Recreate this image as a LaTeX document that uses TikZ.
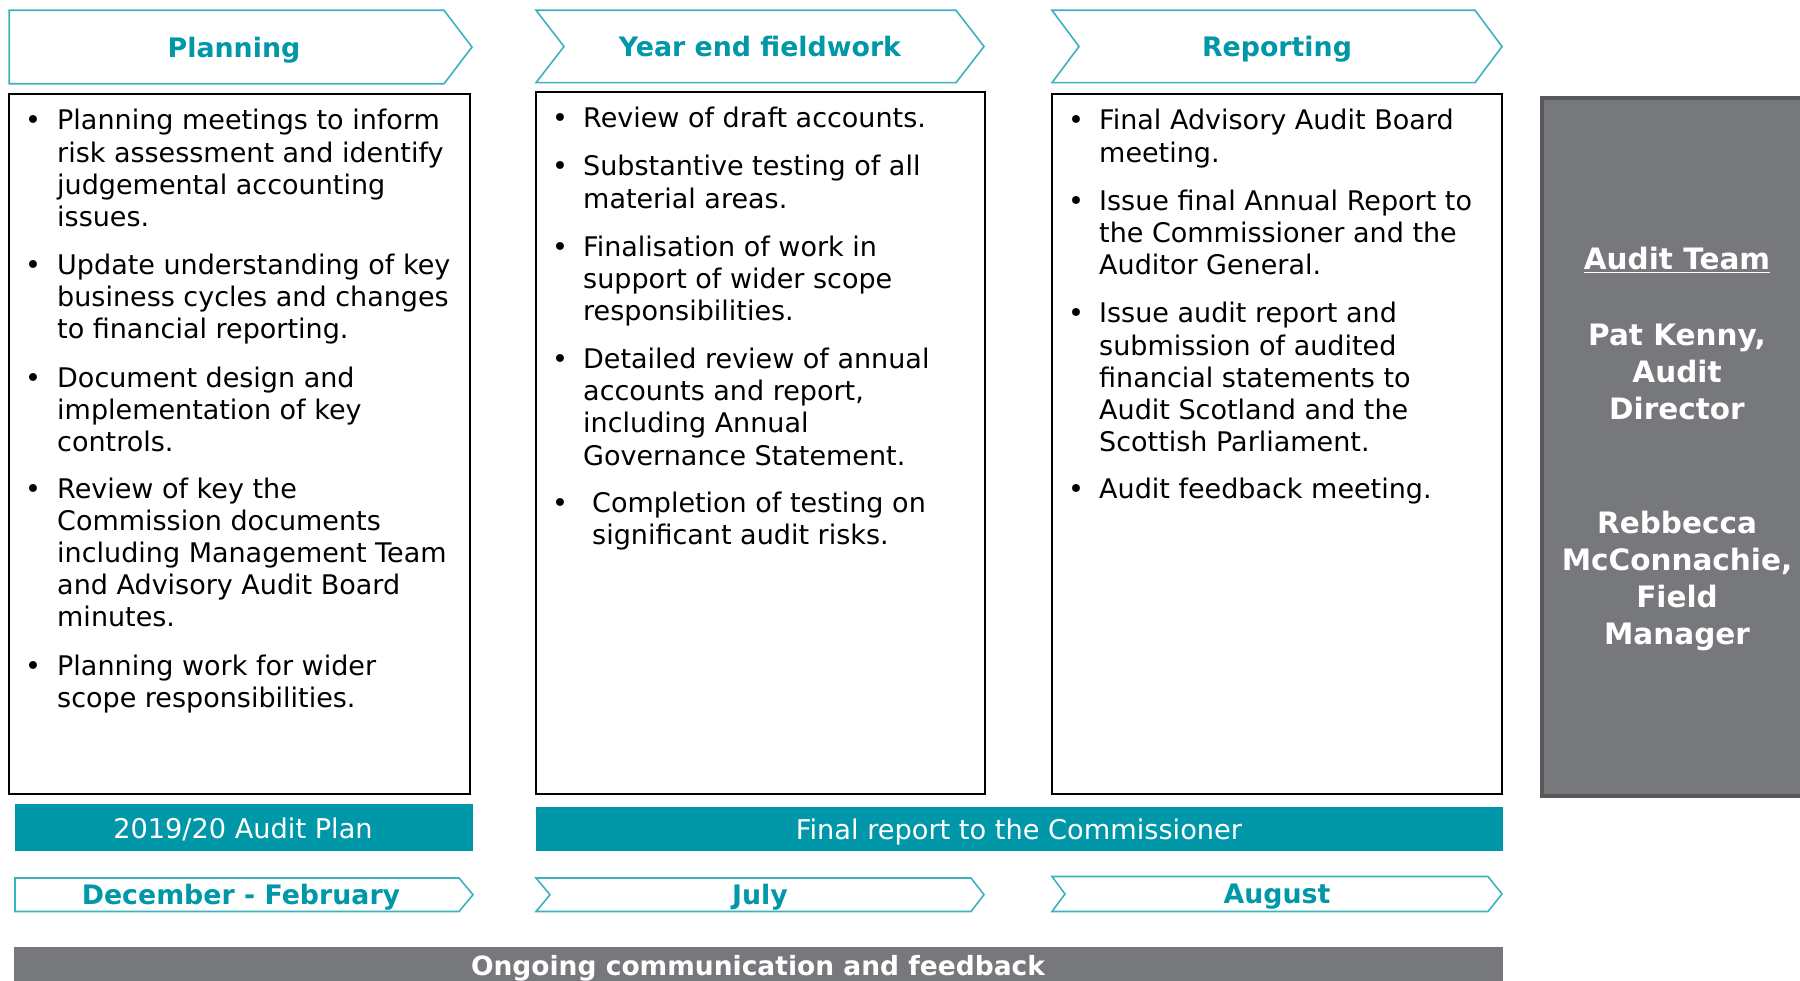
\documentclass[tikz,border=0pt]{standalone}
\usepackage{fontspec}
\setmainfont{DejaVu Sans}
\definecolor{audteal}{HTML}{0098A9}
\definecolor{chevline}{HTML}{3DB1BD}
\definecolor{audgray}{HTML}{76787B}
\definecolor{audgrayd}{HTML}{58595B}
\begin{document}
\begin{tikzpicture}[x=1pt,y=-1pt,
  chev/.style={draw=chevline, line width=1.6pt, fill=white, line join=miter},
  bodybox/.style={draw=black, line width=2pt},
  tealbar/.style={fill=audteal},
  graybar/.style={fill=audgray},
  body/.style={font=\fontsize{27}{32.1}\selectfont, anchor=base west, align=left, inner sep=0pt},
  bul/.style={font=\fontsize{27}{32.1}\selectfont, anchor=base, inner sep=0pt},
  head/.style={font=\bfseries\fontsize{26.8}{32}\selectfont, text=audteal, anchor=base, inner sep=0pt},
  bartext/.style={font=\fontsize{27.2}{32}\selectfont, text=white, anchor=base, inner sep=0pt},
  team/.style={font=\bfseries\fontsize{29.5}{37}\selectfont, text=white, anchor=base, inner sep=0pt},
]
\useasboundingbox (0,0) rectangle (1800,981);

% top chevrons
\draw[chev] (9.2,10.3) -- (444,10.3) -- (472,47) -- (444,83.8) -- (9.2,83.8) -- cycle;
\draw[chev] (536,10.3) -- (956,10.3) -- (984,46.5) -- (956,82.7) -- (536,82.7) -- (564,46.5) -- cycle;
\draw[chev] (1052,10.3) -- (1475,10.3) -- (1502,46.5) -- (1475,82.7) -- (1052,82.7) -- (1079,46.5) -- cycle;
\node[head] (hplan) at (234,58) {Planning};
\node[head] (hyef) at (760,57) {Year end fieldwork};
\node[head] (hrep) at (1277,57) {Reporting};

% body boxes
\draw[bodybox] (9.2,94) rectangle (469.5,794);
\draw[bodybox] (536,92) rectangle (985,794);
\draw[bodybox] (1052,94) rectangle (1502,794);

% box 1 (node base = baseline of last line)
\node[bul] (b1a) at (33,130) {•};
\node[body] (t1a) at (57,226.3) {Planning meetings to inform\\risk assessment and identify\\judgemental accounting\\issues.};
\node[bul] (b1b) at (33,274.7) {•};
\node[body] (t1b) at (57,338.9) {Update understanding of key\\business cycles and changes\\to financial reporting.};
\node[bul] (b1c) at (33,387.2) {•};
\node[body] (t1c) at (57,451.4) {Document design and\\implementation of key\\controls.};
\node[bul] (b1d) at (33,498.5) {•};
\node[body] (t1d) at (57,626.9) {Review of key the\\Commission documents\\including Management Team\\and Advisory Audit Board\\minutes.};
\node[bul] (b1e) at (33,675.3) {•};
\node[body] (t1e) at (57,707.4) {Planning work for wider\\scope responsibilities.};

% box 2
\node[bul] (b2a) at (560,127.7) {•};
\node[body] (t2a) at (583,127.7) {Review of draft accounts.};
\node[bul] (b2b) at (560,176) {•};
\node[body] (t2b) at (583,208.1) {Substantive testing of all\\material areas.};
\node[bul] (b2c) at (560,256.3) {•};
\node[body] (t2c) at (583,320.5) {Finalisation of work in\\support of wider scope\\responsibilities.};
\node[bul] (b2d) at (560,368.8) {•};
\node[body] (t2d) at (583,465.1) {Detailed review of annual\\accounts and report,\\including Annual\\Governance Statement.};
\node[bul] (b2e) at (560,512.3) {•};
\node[body] (t2e) at (592,544.4) {Completion of testing on\\significant audit risks.};

% box 3
\node[bul] (b3a) at (1076,130) {•};
\node[body] (t3a) at (1099,162.1) {Final Advisory Audit Board\\meeting.};
\node[bul] (b3b) at (1076,210.4) {•};
\node[body] (t3b) at (1099,274.6) {Issue final Annual Report to\\the Commissioner and the\\Auditor General.};
\node[bul] (b3c) at (1076,322.9) {•};
\node[body] (t3c) at (1099,451.3) {Issue audit report and\\submission of audited\\financial statements to\\Audit Scotland and the\\Scottish Parliament.};
\node[bul] (b3d) at (1076,498.5) {•};
\node[body] (t3d) at (1099,498.5) {Audit feedback meeting.};

% audit team box
\draw[fill=audgray, draw=audgrayd, line width=4pt] (1542,97.6) rectangle (1815,795.6);
\node[team] (tt) at (1677,270) {\underline{Audit Team}};
\node[team] (p1) at (1677,346) {Pat Kenny,};
\node[team] (p2) at (1677,383) {Audit};
\node[team] (p3) at (1677,420) {Director};
\node[team] (r1) at (1677,533) {Rebbecca};
\node[team] (r2) at (1677,570) {McConnachie,};
\node[team] (r3) at (1677,607) {Field};
\node[team] (r4) at (1677,644) {Manager};

% teal bars
\fill[tealbar] (15,803.6) rectangle (473,850.7);
\fill[tealbar] (536,807) rectangle (1503,851);
\node[bartext] (plan) at (243,838.5) {2019/20 Audit Plan};
\node[bartext] (final) at (1019,839) {Final report to the Commissioner};

% month chevrons
\draw[chev] (15,878) -- (459,878) -- (473,894.7) -- (459,911.5) -- (15,911.5) -- cycle;
\draw[chev] (536,878) -- (971,878) -- (984,894.7) -- (971,911.5) -- (536,911.5) -- (550,894.7) -- cycle;
\draw[chev] (1052,876.5) -- (1488,876.5) -- (1502,894) -- (1488,911.5) -- (1052,911.5) -- (1065,894) -- cycle;
\node[head] (mdec) at (241,904) {December - February};
\node[head] (mjul) at (760,904) {July};
\node[head] (maug) at (1277,903) {August};

% ongoing bar
\fill[graybar] (14,947) rectangle (1503,995);
\node[team, font=\bfseries\fontsize{26.5}{32}\selectfont] (ongo) at (758,975) {Ongoing communication and feedback};
\end{tikzpicture}
\end{document}
